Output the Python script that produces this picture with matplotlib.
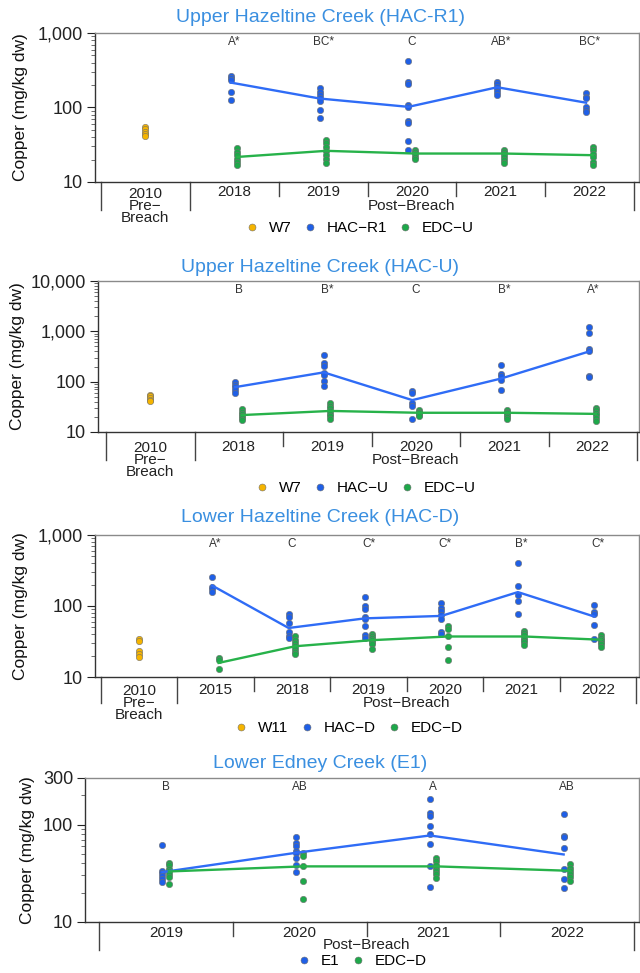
import matplotlib
matplotlib.use('Agg')
import matplotlib.pyplot as plt
from matplotlib.lines import Line2D
from matplotlib.ticker import FuncFormatter, LogLocator, NullFormatter
from matplotlib.transforms import ScaledTranslation

plt.rcParams['font.family'] = ['Liberation Sans', 'DejaVu Sans']

MINUS = '\u2212'

# copper in sediment (mg/kg dw)
W7_2010 = [55, 51, 47, 44, 42]
W11_2010 = [34, 32, 23, 21, 19]

YEARS_HAC = ['2018', '2019', '2020', '2021', '2022']
YEARS_HAC_D = ['2015', '2018', '2019', '2020', '2021', '2022']
YEARS_E1 = ['2019', '2020', '2021', '2022']

HAC_R1 = [
    [262, 248, 235, 163, 126],
    [181, 163, 147, 133, 124, 92, 73],
    [415, 223, 207, 108, 103, 66, 62, 35, 27],
    [223, 207, 191, 176, 163, 147],
    [155, 140, 133, 100, 92, 88],
]
HAC_R1_MEAN = [216, 132, 102, 187, 116]

HAC_U = [
    [98, 87, 77, 69.5, 60],
    [343, 234, 201, 149, 138, 105, 81],
    [66, 60, 38, 32.5, 18.5],
    [211, 142, 128, 110, 69.5],
    [1247, 948, 450, 399, 131, 122],
]
HAC_U_MEAN = [78, 153, 43, 115, 399]

EDC_U = [
    [29, 25.4, 22.9, 20.6, 18.6, 17.1],
    [37, 33.6, 29.6, 26.2, 22.9, 20.6, 18],
    [27.3, 25.4, 23.6, 21.7, 20.4],
    [27.3, 25.4, 23.6, 21.7, 19.5, 18],
    [29.6, 27, 23.6, 21.7, 18.6, 16.9],
]
EDC_U_MEAN = [21.7, 26.2, 24.1, 24.1, 22.9]

HAC_D = [
    [254, 186, 171, 157],
    [76.5, 71, 57, 42.5, 38, 35],
    [135, 100, 90, 71, 65, 52.6, 39, 36],
    [109, 95, 85, 74, 65, 42.5, 40],
    [402, 190, 145, 117, 76.5],
    [102, 82, 76.5, 54, 34.3],
]
HAC_D_MEAN = [194, 49, 67, 72.5, 157, 71]

# EDC-D for 2015, 2018-2022
EDC_D = [
    [18.4, 17.1, 13.1],
    [37.3, 33.6, 30.1, 27.7, 24.9, 22.8, 21.2],
    [40, 38, 35, 33, 31, 29, 24.5],
    [51.5, 47.2, 37.3, 26.2, 17.1],
    [45, 42, 38.5, 36, 33.5, 31, 28.4],
    [39, 36, 33.3, 31.3, 29, 26.3],
]
EDC_D_MEAN = [15.8, 27.1, 33, 37.2, 37.2, 33.5]

E1 = [
    [61, 33.3, 31.5, 29.6, 27.3, 25.7],
    [75, 65, 60, 53, 50.5, 45, 38.3, 32.8],
    [183, 132, 122, 96, 80, 62.4, 37.4, 22.8],
    [129, 77, 74, 57, 34.6, 27.3, 22.5],
]
E1_MEAN = [32.5, 51.3, 77.2, 49.3]

LETTERS_R1 = ['A*', 'BC*', 'C', 'AB*', 'BC*']
LETTERS_U = ['B', 'B*', 'C', 'B*', 'A*']
LETTERS_D = ['A*', 'C', 'C*', 'C*', 'B*', 'C*']
LETTERS_E1 = ['B', 'AB', 'A', 'AB']

YELLOW = '#f5b400'
BLUE = '#1f5fe6'
GREEN = '#1ea84a'
BLUE_LINE = '#2f6cf6'
GREEN_LINE = '#27b24a'
TITLE_C = '#3a8fe0'
EDGE = '#707070'

W, H = 640, 973
PX = 0.72  # points per pixel at dpi 100

fig = plt.figure(figsize=(W / 100, H / 100), dpi=100)


def sites_panel(title, box, dividers, ylim, yticks, letters, pre, post_years, sites,
                legend_xy, title_y, ylabel_x, below):
    left, top, right, bottom = box
    ax = fig.add_axes([left / W, 1 - bottom / H, (right - left) / W, (bottom - top) / H])
    ax.set_yscale('log')

    n = len(post_years) + (1 if pre else 0)
    d0, d1 = dividers
    step = (d1 - d0) / n
    ax.set_xlim(-0.5 - (d0 - left) / step, n - 0.5 + (right - d1) / step)
    ax.set_ylim(*ylim)
    ax.set_yticks(yticks)
    ax.yaxis.set_major_formatter(FuncFormatter(lambda v, p: f'{v:,.0f}'))
    ax.yaxis.set_minor_locator(LogLocator(base=10, subs=range(2, 10)))
    ax.yaxis.set_minor_formatter(NullFormatter())
    ax.set_xticks([])
    ax.tick_params(axis='y', which='major', length=6, width=0.8, pad=2.5,
                   labelsize=13, colors='#222222')
    ax.tick_params(axis='y', which='minor', length=3, width=0.6, colors='#555555')
    for s in ['top', 'right']:
        ax.spines[s].set_color('#8a8a8a')
    for s in ['left', 'bottom']:
        ax.spines[s].set_color('#333333')
    for s in ax.spines.values():
        s.set_linewidth(1.0)

    first = 1 if pre else 0
    handles = []
    labels = []
    if pre:
        name, vals = pre
        ax.scatter([0] * len(vals), vals, s=21, color=YELLOW, edgecolors=EDGE,
                   linewidths=0.4, zorder=3)
        handles.append(Line2D([], [], marker='o', ls='none', color=YELLOW,
                              markeredgecolor=EDGE, markeredgewidth=0.4, markersize=5))
        labels.append(name)

    for name, vals, mean, dot_c, line_c, dx in sites:
        tr = ax.transData + ScaledTranslation(dx / 72, 0, fig.dpi_scale_trans)
        xs = [first + i for i in range(len(vals))]
        for x, v in zip(xs, vals):
            ax.scatter([x] * len(v), v, s=21, color=dot_c, edgecolors=EDGE,
                       linewidths=0.4, zorder=3, transform=tr)
        ax.plot(xs, mean, color=line_c, lw=1.7, zorder=4, transform=tr)
        handles.append(Line2D([], [], marker='o', ls='none', color=dot_c,
                              markeredgecolor=EDGE, markeredgewidth=0.4, markersize=5))
        labels.append(name)

    for i, t in enumerate(letters):
        ax.annotate(t, xy=(first + i, 1), xycoords=('data', 'axes fraction'),
                    xytext=(0, -9 * PX), textcoords='offset points',
                    ha='center', va='center', fontsize=8.5, color='#333333')

    # category axis below the plot
    h_px = bottom - top
    yr_off, grp_off, long_len, short_len = below
    xt = ax.get_xaxis_transform()
    edges = [first - 0.5 + k for k in range(len(post_years) + 1)]
    for k, xe in enumerate(edges):
        ln = long_len if k in (0, len(edges) - 1) else short_len
        ax.plot([xe, xe], [0, -ln / h_px], transform=xt, clip_on=False,
                color='#444444', lw=1.0)
    if pre:
        ax.plot([-0.5, -0.5], [0, -long_len / h_px], transform=xt, clip_on=False,
                color='#444444', lw=1.0)

    def below_text(x, off, txt, **kw):
        ax.annotate(txt, xy=(x, 0), xycoords=('data', 'axes fraction'),
                    xytext=(0, -off * PX), textcoords='offset points',
                    ha='center', va='center', fontsize=11, color='#222222', **kw)

    if pre:
        below_text(0, grp_off, '2010\nPre' + MINUS + '\nBreach', linespacing=0.8)
    for i, yr in enumerate(post_years):
        below_text(first + i, yr_off, yr)
    below_text(first + (len(post_years) - 1) / 2, grp_off, 'Post' + MINUS + 'Breach')

    fig.text(0.5, 1 - title_y / H, title, ha='center', va='center',
             fontsize=14, color=TITLE_C)
    fig.text(ylabel_x / W, 1 - (top + bottom) / 2 / H, 'Copper (mg/kg dw)',
             rotation=90, ha='center', va='center', fontsize=12.5, color='#111111')

    ax.legend(handles, labels, loc='center', ncol=len(handles), frameon=False,
              bbox_to_anchor=(legend_xy[0] / W, 1 - legend_xy[1] / H),
              bbox_transform=fig.transFigure, fontsize=11, handlelength=0.8,
              handletextpad=0.7, columnspacing=0.8, borderaxespad=0, borderpad=0)
    return ax


sites_panel('Upper Hazeltine Creek (HAC-R1)', (95, 33, 639, 182), (101, 634),
            (10, 1000), [10, 100, 1000], LETTERS_R1, ('W7', W7_2010), YEARS_HAC,
            [('HAC' + MINUS + 'R1', HAC_R1, HAC_R1_MEAN, BLUE, BLUE_LINE, -2.5),
             ('EDC' + MINUS + 'U', EDC_U, EDC_U_MEAN, GREEN, GREEN_LINE, 2.2)],
            (360, 228), 17, 21, (10.5, 24, 28, 14))

sites_panel('Upper Hazeltine Creek (HAC-U)', (98, 281, 639, 432), (106, 637),
            (10, 10000), [10, 100, 1000, 10000], LETTERS_U, ('W7', W7_2010), YEARS_HAC,
            [('HAC' + MINUS + 'U', HAC_U, HAC_U_MEAN, BLUE, BLUE_LINE, -2.5),
             ('EDC' + MINUS + 'U', EDC_U, EDC_U_MEAN, GREEN, GREEN_LINE, 2.2)],
            (366, 488), 267, 18, (15, 28, 28, 14))

sites_panel('Lower Hazeltine Creek (HAC-D)', (95, 535, 639, 677), (101, 636),
            (10, 1000), [10, 100, 1000], LETTERS_D, ('W11', W11_2010), YEARS_HAC_D,
            [('HAC' + MINUS + 'D', HAC_D, HAC_D_MEAN, BLUE, BLUE_LINE, -2.5),
             ('EDC' + MINUS + 'D', EDC_D, EDC_D_MEAN, GREEN, GREEN_LINE, 2.2)],
            (349, 728), 518, 21, (13, 26, 26, 14))

sites_panel('Lower Edney Creek (E1)', (85, 778, 639, 922), (99, 634),
            (10, 300), [10, 100, 300], LETTERS_E1, None, YEARS_E1,
            [('E1', E1, E1_MEAN, BLUE, BLUE_LINE, -2.5),
             ('EDC' + MINUS + 'D', EDC_D[2:], EDC_D_MEAN[2:], GREEN, GREEN_LINE, 2.2)],
            (362, 961), 763, 28, (11, 23, 28, 14))

fig.savefig('out.png', dpi=100)
